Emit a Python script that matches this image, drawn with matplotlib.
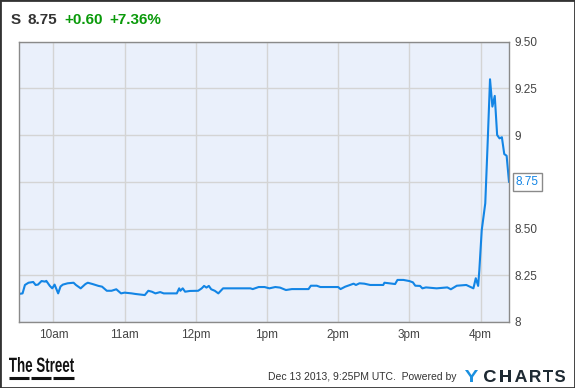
import numpy as np
import matplotlib.pyplot as plt
from matplotlib.lines import Line2D
from matplotlib.patches import Rectangle, PathPatch
from matplotlib.textpath import TextPath
from matplotlib.font_manager import FontProperties
from matplotlib.transforms import Affine2D

plt.rcParams['font.family'] = ['Liberation Sans', 'DejaVu Sans']

# intraday prices, minutes after 9:30 open
minutes = [1, 4, 6, 9, 13, 15, 17, 20, 23, 24, 27, 29, 31, 34, 36, 38, 42, 47,
           49, 53, 57, 59, 63, 68, 71, 75, 79, 83, 87, 90, 96, 99, 107, 110,
           113, 116, 120, 123, 134, 136, 137, 139, 141, 145, 152, 155, 157,
           159, 161, 163, 166, 169, 173, 176, 196, 198, 203, 208, 212, 217,
           221, 226, 231, 245, 247, 252, 255, 270, 272, 276, 280, 283, 285,
           288, 292, 297, 308, 309, 313, 318, 320, 325, 330, 333, 335, 339,
           341, 344, 353, 362, 365, 370, 378, 381, 384, 386, 388, 389, 391,
           394, 396, 398, 400, 402, 404, 406, 408, 410, 412, 414]
prices = [8.150, 8.153, 8.198, 8.210, 8.214, 8.198, 8.200, 8.219, 8.216, 8.220,
          8.193, 8.180, 8.200, 8.153, 8.190, 8.200, 8.207, 8.210, 8.198, 8.180,
          8.203, 8.210, 8.203, 8.193, 8.189, 8.167, 8.167, 8.175, 8.153, 8.157,
          8.153, 8.150, 8.144, 8.167, 8.162, 8.153, 8.160, 8.153, 8.153, 8.180,
          8.167, 8.180, 8.162, 8.166, 8.167, 8.180, 8.193, 8.184, 8.193, 8.175,
          8.167, 8.153, 8.180, 8.180, 8.180, 8.176, 8.187, 8.187, 8.180, 8.187,
          8.184, 8.171, 8.176, 8.176, 8.194, 8.194, 8.187, 8.187, 8.176, 8.189,
          8.198, 8.205, 8.198, 8.207, 8.205, 8.198, 8.198, 8.210, 8.207, 8.203,
          8.225, 8.225, 8.219, 8.212, 8.194, 8.193, 8.180, 8.185, 8.180, 8.185,
          8.175, 8.194, 8.198, 8.189, 8.180, 8.234, 8.193, 8.278, 8.490, 8.635,
          8.956, 9.298, 9.152, 9.209, 9.000, 8.982, 8.988, 8.898, 8.889, 8.750]

tick_min = [30, 90, 150, 210, 270, 330, 390]
tick_lab = ['10am', '11am', '12pm', '1pm', '2pm', '3pm', '4pm']
ytick_val = [8, 8.25, 8.5, 8.75, 9, 9.25, 9.5]
ytick_lab = ['8', '8.25', '8.50', '', '9', '9.25', '9.50']

LINE = '#1385e5'
FACE = '#eaf0fb'
W, H = 575., 388.


def logo(text, x0, x1, ytop, ybot, color):
    # squeeze a bold word into a pixel box (y from the top of the image)
    p = TextPath((0, 0), text, size=10,
                 prop=FontProperties(family='Liberation Sans', weight='bold'))
    e = p.get_extents()
    tr = (Affine2D().translate(-e.x0, -e.y0)
          .scale((x1 - x0) / e.width, (ybot - ytop) / e.height)
          .translate(x0, H - ybot).scale(1 / W, 1 / H) + fig.transFigure)
    fig.add_artist(PathPatch(p, transform=tr, fc=color, ec='none'))


fig = plt.figure(figsize=(5.75, 3.88), dpi=100)
ax = fig.add_axes([19 / W, 1 - 322 / H, 490 / W, 280.5 / H])
ax.set_facecolor(FACE)
ax.plot(minutes, prices, color=LINE, lw=1.5, solid_joinstyle='round')
ax.set_xlim(minutes[0], minutes[-1])
ax.set_ylim(8, 9.5)
ax.set_xticks(tick_min)
ax.set_xticklabels(tick_lab)
ax.set_yticks(ytick_val)
ax.set_yticklabels(ytick_lab)
ax.yaxis.tick_right()
ax.tick_params(length=0, labelsize=8.5, labelcolor='#444444', pad=5)
ax.tick_params(axis='y', pad=4)
ax.grid(True, color='#d4d4d4', lw=1)
ax.set_axisbelow(True)
for s in ax.spines.values():
    s.set_color('#8a8a8a')
    s.set_linewidth(1)

# last price callout
last = prices[-1]
ax.annotate('%.2f' % last, xy=(1, last), xycoords=('axes fraction', 'data'),
            xytext=(5, 0), textcoords='offset points', va='center', ha='left',
            fontsize=8.5, color=LINE,
            bbox=dict(boxstyle='square,pad=0.25', fc='white', ec='#8a8a8a', lw=1))

# header
hy = 1 - 20 / H
fig.text(11 / W, hy, 'S', fontsize=11, fontweight='bold', color='#333333', va='center')
fig.text(28 / W, hy, '8.75', fontsize=11, fontweight='bold', color='#333333', va='center')
fig.text(64 / W, hy, '+0.60', fontsize=11, fontweight='bold', color='#0a9a0a', va='center')
fig.text(109 / W, hy, '+7.36%', fontsize=11, fontweight='bold', color='#0a9a0a', va='center')

# footer
logo('The Street', 9, 74, 357, 372, '#111111')
for x0, x1 in ((9, 29), (31, 51), (53, 74)):
    fig.add_artist(Line2D([x0 / W, x1 / W], [1 - 378 / H] * 2,
                          color='#111111', lw=2.2, solid_capstyle='butt'))
fig.text(457 / W, 1 - 376.5 / H, 'Dec 13 2013, 9:25PM UTC.  Powered by',
         fontsize=7.5, color='#333333', ha='right', va='center')
logo('Y', 465, 478, 370, 382, '#1a90e0')
logo('C', 484, 496, 370, 382, '#1e2a33')
logo('H', 500, 511, 370, 382, '#1e2a33')
logo('A', 515, 527, 370, 382, '#1e2a33')
logo('R', 530, 541, 370, 382, '#1e2a33')
logo('T', 543, 553, 370, 382, '#1e2a33')
logo('S', 555, 565, 370, 382, '#1e2a33')

fig.add_artist(Rectangle((0, 0), 1, 1, transform=fig.transFigure, fill=False,
                         ec='#333333', lw=2))

fig.savefig('out.png', dpi=100)
